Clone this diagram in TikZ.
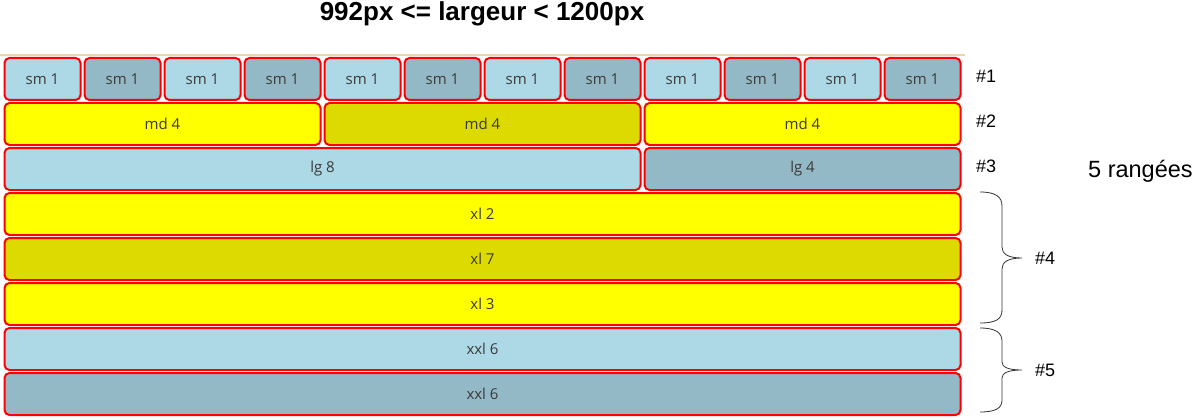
\documentclass[tikz,border=0pt]{standalone}
\usepackage{fontspec}
\setmainfont{Liberation Sans}
\newfontfamily\boxfont{Open Sans}
\definecolor{lblue}{HTML}{ADD8E6}
\definecolor{dblue}{HTML}{93B9C6}
\definecolor{yel}{HTML}{FFFF00}
\definecolor{oli}{HTML}{DCDA00}
\definecolor{tan}{HTML}{E8D8A4}
\definecolor{txt}{HTML}{3A3A3A}
\tikzset{
  cellbox/.style={draw=red, line width=2pt, rounded corners=5pt, anchor=north west,
    minimum height=42pt, inner sep=0pt, text=txt, font=\boxfont\fontsize{15}{18}\selectfont},
  rowlabel/.style={anchor=base west, font=\fontsize{18}{21}\selectfont, inner sep=0pt},
  bracepath/.style={draw=black!80, line width=0.8pt}
}
\begin{document}
\begin{tikzpicture}[x=1pt,y=-1pt]
\useasboundingbox (0,0) rectangle (1195,420);
\fill[white] (0,0) rectangle (1195,420);
\node[font=\bfseries\fontsize{26}{30}\selectfont, inner sep=0pt, anchor=base] (title) at (482,21) {992px <= largeur < 1200px};
\draw[tan, line width=1.5pt] (0,55) -- (965,55);
% row 1
\foreach \i in {0,...,11}{
  \pgfmathtruncatemacro{\parity}{mod(\i,2)}
  \ifnum\parity=0 \def\fc{lblue}\else\def\fc{dblue}\fi
  \node[cellbox, fill=\fc, minimum width=76pt] (sm\i) at ({3.5+80*\i},57) {sm 1};
}
% row 2
\node[cellbox, fill=yel, minimum width=316pt] (md0) at (3.5,102) {md 4};
\node[cellbox, fill=oli, minimum width=316pt] (md1) at (323.5,102) {md 4};
\node[cellbox, fill=yel, minimum width=316pt] (md2) at (643.5,102) {md 4};
% row 3
\node[cellbox, fill=lblue, minimum width=636pt] (lg0) at (3.5,147) {lg 8};
\node[cellbox, fill=dblue, minimum width=316pt] (lg1) at (643.5,147) {lg 4};
% row 4
\node[cellbox, fill=yel, minimum width=956pt] (xl0) at (3.5,192) {xl 2};
\node[cellbox, fill=oli, minimum width=956pt] (xl1) at (3.5,237) {xl 7};
\node[cellbox, fill=yel, minimum width=956pt] (xl2) at (3.5,282) {xl 3};
% row 5
\node[cellbox, fill=lblue, minimum width=956pt] (xxl0) at (3.5,327) {xxl 6};
\node[cellbox, fill=dblue, minimum width=956pt] (xxl1) at (3.5,372) {xxl 6};
% labels
\node[rowlabel] (r1) at (976,83) {\#1};
\node[rowlabel] (r2) at (976,128) {\#2};
\node[rowlabel] (r3) at (976,172) {\#3};
\node[rowlabel] (r4) at (1035,264) {\#4};
\node[rowlabel] (r5) at (1035,376) {\#5};
\node[rowlabel, font=\fontsize{23.5}{27}\selectfont] (rows) at (1088,177) {5 rangées};
% braces
\draw[bracepath] (980,192) .. controls (996,192) and (1002,197) .. (1002,206)
  -- (1002,247) .. controls (1002,254) and (1008,258) .. (1022,258)
  .. controls (1008,258) and (1002,262) .. (1002,269)
  -- (1002,310) .. controls (1002,319) and (996,323) .. (980,323);
\draw[bracepath] (980,328) .. controls (996,328) and (1002,333) .. (1002,341)
  -- (1002,362) .. controls (1002,367) and (1008,370) .. (1022,370)
  .. controls (1008,370) and (1002,373) .. (1002,378)
  -- (1002,400) .. controls (1002,408) and (996,412) .. (980,412);
\end{tikzpicture}
\end{document}
